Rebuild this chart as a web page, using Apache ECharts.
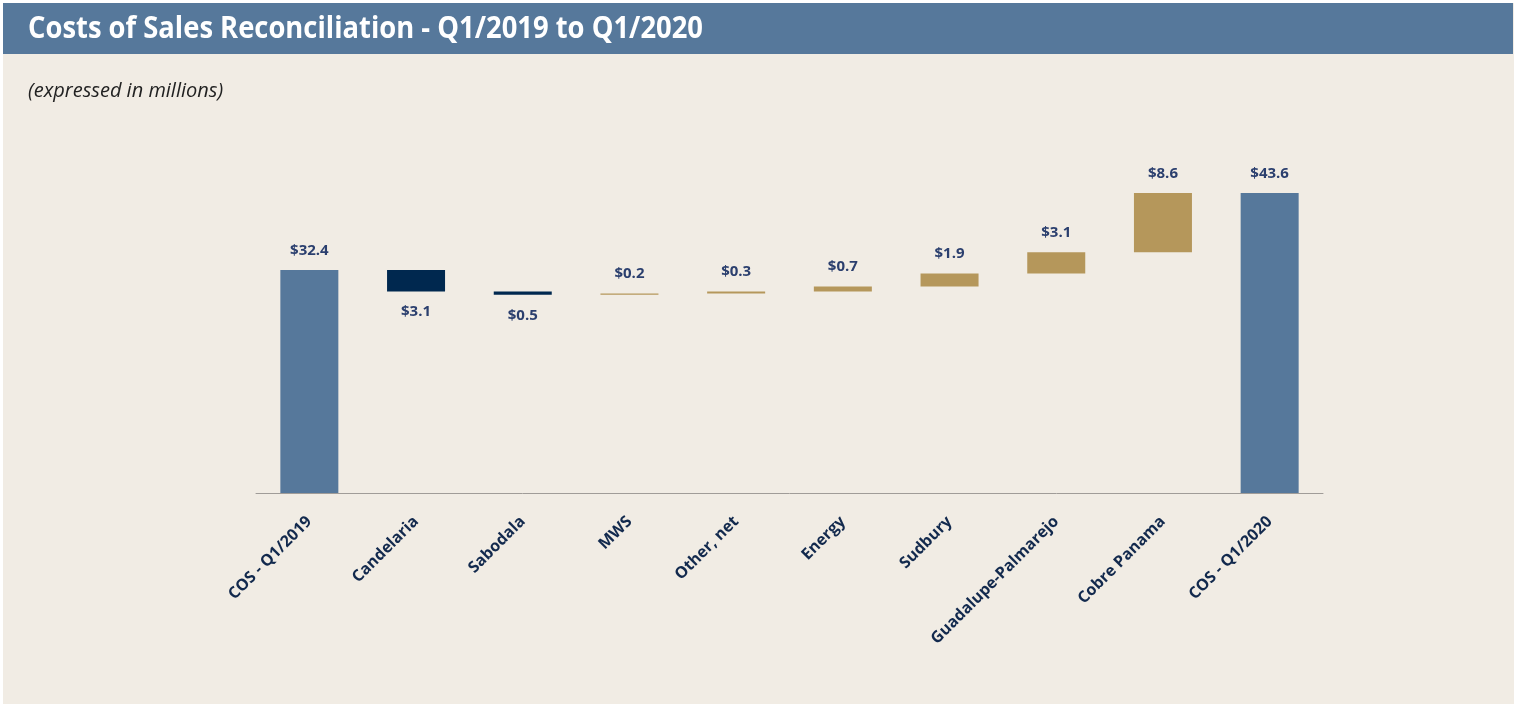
<!DOCTYPE html>
<html>
<head>
<meta charset="utf-8">
<script src="https://cdn.jsdelivr.net/npm/echarts@6/dist/echarts.min.js"></script>
<style>
html,body{margin:0;padding:0;background:#ffffff;}
#chart{width:1514px;height:704px;}
</style>
</head>
<body>
<div id="chart"></div>
<script>
const titleText = 'Costs of Sales Reconciliation - Q1/2019 to Q1/2020';
const subtitleText = '(expressed in millions)';
const categories = ['COS - Q1/2019','Candelaria','Sabodala','MWS','Other, net','Energy','Sudbury','Guadalupe-Palmarejo','Cobre Panama','COS - Q1/2020'];
const changes = [32.4, -3.1, -0.5, 0.2, 0.3, 0.7, 1.9, 3.1, 8.6, 43.6];
const kinds = ['total','decrease','decrease','increase','increase','increase','increase','increase','increase','total'];

const colors = {total:'#56789b', decrease:'#00284f', increase:'#b5975b'};

// build waterfall helper (invisible base) and visible segment
const baseData = [];
const segData = [];
let running = 0;
changes.forEach((v, i) => {
  const k = kinds[i];
  if (k === 'total') {
    baseData.push(0);
    segData.push({value: v, itemStyle:{color: colors.total},
      label:{position:'top', distance:12}});
    running = v;
  } else if (k === 'decrease') {
    running = running + v;
    baseData.push(running);
    segData.push({value: -v, itemStyle:{color: colors.decrease},
      label:{position:'bottom', distance:13}});
  } else {
    baseData.push(running);
    running = running + v;
    segData.push({value: v, itemStyle:{color: colors.increase},
      label:{position:'top', distance:12}});
  }
});

const chart = echarts.init(document.getElementById('chart'));
chart.setOption({
  backgroundColor:'#ffffff',
  animation:false,
  graphic:[
    {type:'rect', left:3, top:3, z:-10, shape:{width:1511, height:701}, style:{fill:'#f1ece4'}},
    {type:'rect', left:3, top:3, z:-5, shape:{width:1510, height:51}, style:{fill:'#56789b'}},
    {type:'text', x:28, y:29, scaleX:0.883, style:{text:titleText, fill:'#ffffff',
      verticalAlign:'middle', align:'left',
      font:'bold 31px "Open Sans", sans-serif'}},
    {type:'text', x:28, y:91, style:{text:subtitleText, fill:'#222222',
      verticalAlign:'middle', align:'left',
      font:'italic 20px "Open Sans", sans-serif'}}
  ],
  grid:{left:256, right:191, top:149, bottom:211, containLabel:false},
  xAxis:{
    type:'category',
    data:categories,
    axisLine:{show:true, lineStyle:{color:'#a09c98', width:1}},
    axisTick:{show:false},
    axisLabel:{
      interval:0, rotate:45, margin:26,
      padding:[16,0,0,0],
      color:'#12294d', fontSize:16, fontWeight:'bold',
      fontFamily:'"Open Sans", sans-serif'
    }
  },
  yAxis:{type:'value', min:0, max:50, show:false, splitLine:{show:false}},
  series:[
    {type:'bar', stack:'w', data:baseData, barWidth:58,
      itemStyle:{color:'transparent'}, emphasis:{disabled:true}, silent:true},
    {type:'bar', stack:'w', data:segData, barWidth:58,
      label:{show:true, color:'#2b3f6e', fontSize:15, fontWeight:'bold',
        fontFamily:'"Open Sans", sans-serif',
        formatter: p => '$' + Math.abs(p.value).toFixed(1)}}
  ]
});
</script>
</body>
</html>
